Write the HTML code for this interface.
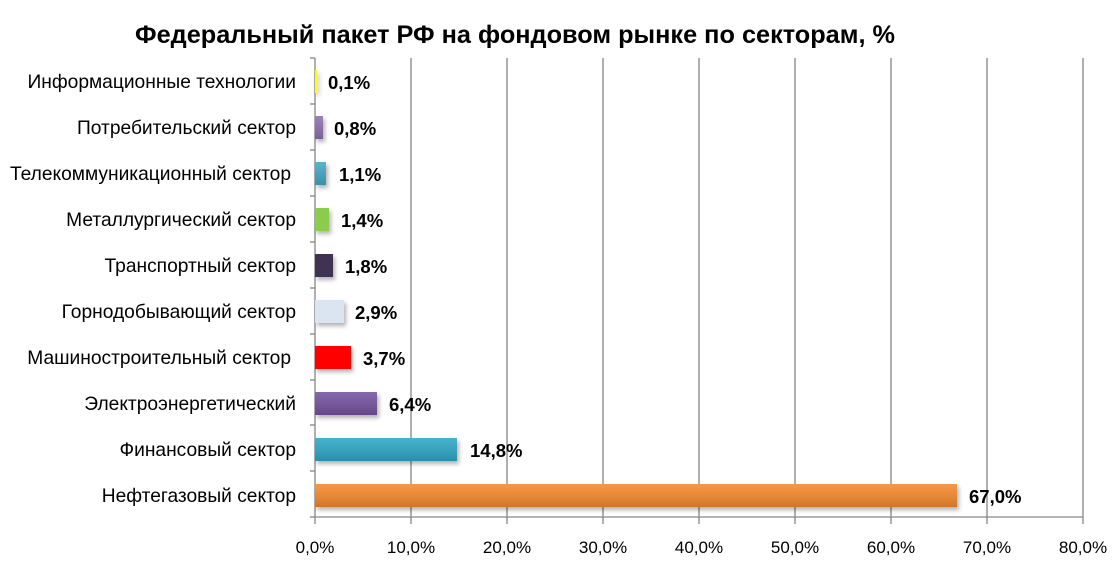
<!DOCTYPE html>
<html><head><meta charset="utf-8"><style>
body{margin:0;background:#fff;}
svg text{font-family:"Liberation Sans","DejaVu Sans",sans-serif;}
</style></head><body>
<svg width="1120" height="563" xmlns="http://www.w3.org/2000/svg">
<defs>
<filter id="sh" x="-10%" y="-30%" width="130%" height="180%"><feDropShadow dx="2" dy="3" stdDeviation="2" flood-color="#000" flood-opacity="0.3"/></filter>
<linearGradient id="g" x1="0" y1="0" x2="0" y2="1"><stop offset="0" stop-color="#fff" stop-opacity="0.12"/><stop offset="1" stop-color="#000" stop-opacity="0.15"/></linearGradient>
</defs>
<text x="515" y="43" text-anchor="middle" font-size="25" font-weight="bold" fill="#000" textLength="760" lengthAdjust="spacingAndGlyphs">Федеральный пакет РФ на фондовом рынке по секторам, %</text>
<g stroke="#868686" stroke-width="1.3">
<line x1="411" y1="58" x2="411" y2="524"/><line x1="507" y1="58" x2="507" y2="524"/>
<line x1="603" y1="58" x2="603" y2="524"/><line x1="699" y1="58" x2="699" y2="524"/>
<line x1="795" y1="58" x2="795" y2="524"/><line x1="891" y1="58" x2="891" y2="524"/>
<line x1="987" y1="58" x2="987" y2="524"/><line x1="1083" y1="58" x2="1083" y2="524"/>
<line x1="315" y1="58" x2="315" y2="524"/><line x1="315" y1="517" x2="1083" y2="517"/>
<line x1="310" y1="58" x2="315" y2="58"/><line x1="310" y1="104" x2="315" y2="104"/>
<line x1="310" y1="150" x2="315" y2="150"/><line x1="310" y1="196" x2="315" y2="196"/>
<line x1="310" y1="242" x2="315" y2="242"/><line x1="310" y1="288" x2="315" y2="288"/>
<line x1="310" y1="334" x2="315" y2="334"/><line x1="310" y1="380" x2="315" y2="380"/>
<line x1="310" y1="425" x2="315" y2="425"/><line x1="310" y1="471" x2="315" y2="471"/>
<line x1="310" y1="517" x2="315" y2="517"/>
</g>
<g filter="url(#sh)">
<rect x="315" y="70" width="2" height="23" fill="#ffff00"/>
<rect x="315" y="116" width="8" height="23" fill="#8d70b4"/>
<rect x="315" y="162" width="11" height="23" fill="#45a8c4"/>
<rect x="315" y="208" width="14" height="23" fill="#8ccc4c"/>
<rect x="315" y="254" width="18" height="23" fill="#3f3151"/>
<rect x="315" y="300" width="29" height="23" fill="#dbe5f1"/>
<rect x="315" y="346" width="36" height="23" fill="#ff0000"/>
<rect x="315" y="392" width="62" height="23" fill="#7553a0"/>
<rect x="315" y="438" width="142" height="23" fill="#2ea8c8"/>
<rect x="315" y="484" width="642" height="23" fill="#f58a2e"/>
</g>
<g>
<rect x="315" y="116" width="8" height="23" fill="url(#g)"/>
<rect x="315" y="162" width="11" height="23" fill="url(#g)"/>
<rect x="315" y="392" width="62" height="23" fill="url(#g)"/>
<rect x="315" y="438" width="142" height="23" fill="url(#g)"/>
<rect x="315" y="484" width="642" height="23" fill="url(#g)"/>
</g>
<g font-size="19.2" fill="#000" text-anchor="end">
<text x="296" y="88">Информационные технологии</text>
<text x="296" y="134">Потребительский сектор</text>
<text x="291" y="180">Телекоммуникационный сектор</text>
<text x="296" y="226">Металлургический сектор</text>
<text x="296" y="272">Транспортный сектор</text>
<text x="296" y="318">Горнодобывающий сектор</text>
<text x="291" y="364">Машиностроительный сектор</text>
<text x="296" y="410">Электроэнергетический</text>
<text x="296" y="456">Финансовый сектор</text>
<text x="296" y="502">Нефтегазовый сектор</text>
</g>
<g font-size="18.5" font-weight="bold" fill="#000">
<text x="328" y="89">0,1%</text>
<text x="334" y="135">0,8%</text>
<text x="339" y="181">1,1%</text>
<text x="341" y="227">1,4%</text>
<text x="345" y="273">1,8%</text>
<text x="355" y="319">2,9%</text>
<text x="363" y="365">3,7%</text>
<text x="389" y="411">6,4%</text>
<text x="470" y="457">14,8%</text>
<text x="969" y="503">67,0%</text>
</g>
<g font-size="17" fill="#000" text-anchor="middle">
<text x="315" y="553">0,0%</text><text x="411" y="553">10,0%</text>
<text x="507" y="553">20,0%</text><text x="603" y="553">30,0%</text>
<text x="699" y="553">40,0%</text><text x="795" y="553">50,0%</text>
<text x="891" y="553">60,0%</text><text x="987" y="553">70,0%</text>
<text x="1083" y="553">80,0%</text>
</g>
</svg>
</body></html>
